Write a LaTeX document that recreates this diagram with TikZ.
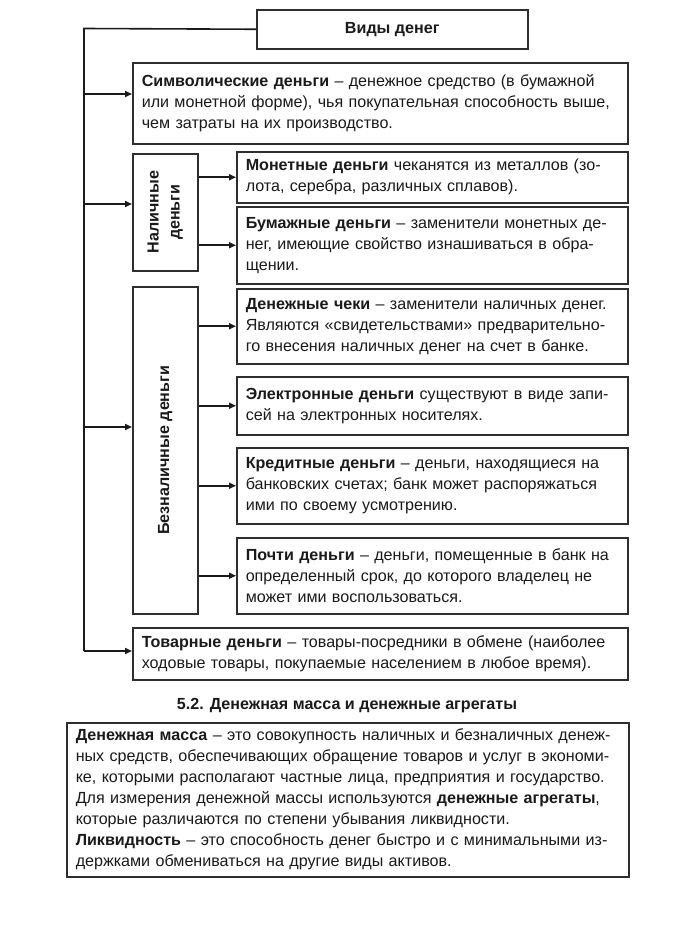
\documentclass[tikz,border=0pt]{standalone}
\usepackage{fontspec}
\setmainfont{Liberation Sans}
\usetikzlibrary{arrows.meta}
\definecolor{ink}{HTML}{1A1A1A}
\definecolor{edge}{HTML}{2E2E2E}
\begin{document}
\begin{tikzpicture}[x=1pt,y=-1pt,
  every node/.style={font=\fontsize{16.1}{21}\selectfont, text=ink},
  tbox/.style={draw=edge, line width=1.5pt, anchor=north west, inner xsep=9pt, inner ysep=0pt, align=left},
  vbox/.style={draw=edge, line width=1.5pt, anchor=north west, inner sep=0pt},
  conn/.style={draw=ink, line width=1.6pt},
  arr/.style={conn, -{Triangle[length=7pt,width=6pt]}}
]
\useasboundingbox (0,0) rectangle (692,937);
\fill[white] (0,0) rectangle (692,937);

% boxes
\node[vbox, minimum width=271pt, minimum height=39pt] (top) at (256,9) {};
\node[font=\fontsize{16.1}{21}\selectfont\bfseries] at (top.center) {Виды денег};

\node[tbox, minimum height=81pt, text width=477pt] (sym) at (132,62)
 {\textbf{Символические деньги} – денежное средство (в бумажной\\или монетной форме), чья покупательная способность выше,\\чем затраты на их производство.};

\node[vbox, minimum width=65pt, minimum height=117pt] (nal) at (132,153) {};
\node[rotate=90, align=center, font=\fontsize{16.1}{21}\selectfont\bfseries] at (nal.center) {Наличные\\деньги};

\node[tbox, minimum height=51pt, text width=373pt] (mon) at (236,151)
 {\textbf{Монетные деньги} чеканятся из металлов (зо-\\лота, серебра, различных сплавов).};
\node[tbox, minimum height=77pt, text width=373pt] (bum) at (236,206)
 {\textbf{Бумажные деньги} – заменители монетных де-\\нег, имеющие свойство изнашиваться в обра-\\щении.};

\node[vbox, minimum width=65pt, minimum height=327pt] (bez) at (132,286) {};
\node[rotate=90, font=\fontsize{16.1}{21}\selectfont\bfseries] at (bez.center) {Безналичные деньги};

\node[tbox, minimum height=75pt, text width=373pt] (chek) at (236,288)
 {\textbf{Денежные чеки} – заменители наличных денег.\\Являются «свидетельствами» предварительно-\\го внесения наличных денег на счет в банке.};
\node[tbox, minimum height=58pt, text width=373pt] (el) at (236,376)
 {\textbf{Электронные деньги} существуют в виде запи-\\сей на электронных носителях.};
\node[tbox, minimum height=76pt, text width=373pt] (kred) at (236,447)
 {\textbf{Кредитные деньги} – деньги, находящиеся на\\банковских счетах; банк может распоряжаться\\ими по своему усмотрению.};
\node[tbox, minimum height=76pt, text width=373pt] (poch) at (236,537)
 {\textbf{Почти деньги} – деньги, помещенные в банк на\\определенный срок, до которого владелец не\\может ими воспользоваться.};

\node[tbox, minimum height=52pt, text width=477pt] (tov) at (132,627)
 {\textbf{Товарные деньги} – товары-посредники в обмене (наиболее\\ходовые товары, покупаемые населением в любое время).};

\node[font=\fontsize{16.1}{21}\selectfont\bfseries] (head) at (347,706) {5.2. Денежная масса и денежные агрегаты};

\node[tbox, minimum height=154pt, text width=544pt] (mass) at (66,722)
 {\textbf{Денежная масса} – это совокупность наличных и безналичных денеж-\\ных средств, обеспечивающих обращение товаров и услуг в экономи-\\ке, которыми располагают частные лица, предприятия и государство.\\Для измерения денежной массы используются \textbf{денежные агрегаты},\\которые различаются по степени убывания ликвидности.\\\textbf{Ликвидность} – это способность денег быстро и с минимальными из-\\держками обмениваться на другие виды активов.};

% trunk
\coordinate (t0) at (84,28.5);
\coordinate (t1) at (84,94);
\coordinate (t2) at (84,204);
\coordinate (t3) at (84,427);
\coordinate (t4) at (84,651);
\draw[conn] (top.west) -- (t0) -- (t4);
\draw[arr] (t1) -- (t1 -| sym.west);
\draw[arr] (t2) -- (t2 -| nal.west);
\draw[arr] (t3) -- (t3 -| bez.west);
\draw[arr] (t4) -- (t4 -| tov.west);

% branches
\draw[arr] (mon.west -| nal.east) -- (mon.west);
\draw[arr] (bum.west -| nal.east) -- (bum.west);
\draw[arr] (chek.west -| bez.east) -- (chek.west);
\draw[arr] (el.west -| bez.east) -- (el.west);
\draw[arr] (kred.west -| bez.east) -- (kred.west);
\draw[arr] (poch.west -| bez.east) -- (poch.west);
\end{tikzpicture}
\end{document}
